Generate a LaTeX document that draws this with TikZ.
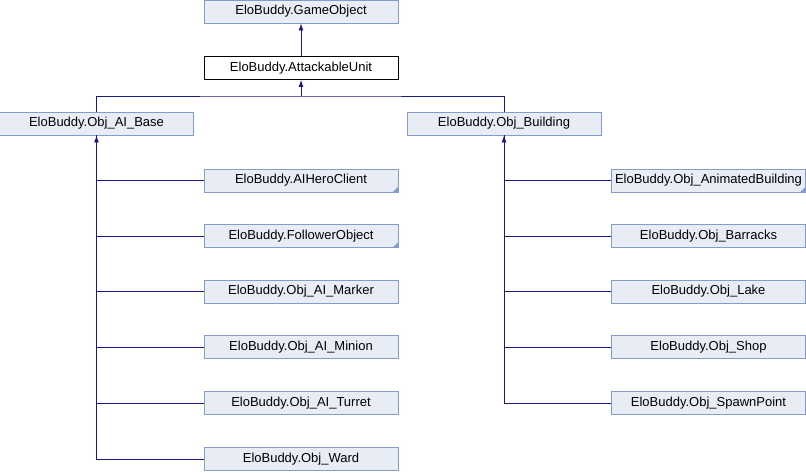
\documentclass[tikz,border=0pt]{standalone}
\usepackage{fontspec}
\setmainfont{Liberation Sans}
\usetikzlibrary{arrows.meta}
\definecolor{boxfill}{RGB}{232,236,245}
\definecolor{boxline}{RGB}{132,155,203}
\definecolor{edgeblue}{RGB}{25,25,130}
\tikzstyle{cls}=[draw=boxline, fill=boxfill, line width=0.9pt, minimum width=194pt, minimum height=23pt, inner sep=0pt, font=\fontsize{13}{15}\selectfont]
\tikzstyle{cur}=[cls, draw=black, fill=white]
\tikzstyle{edge}=[draw=edgeblue, line width=0.9pt]
\tikzstyle{inh}=[edge, -{Latex[length=7pt,width=5pt]}]
\newcommand{\cls}{\node[cls]}
\newcommand{\more}[1]{\fill[boxline] (#1.south east) -- ++(-6,0) -- ++(6,-6) -- cycle;}

\begin{document}
\begin{tikzpicture}[x=1pt, y=-1pt]
\useasboundingbox (0,0) rectangle (806,472);
\cls (gameobj) at (301,11.5) {EloBuddy.GameObject};
\node[cur] (attack) at (301,68) {EloBuddy.AttackableUnit};
\cls (aibase) at (96.5,123.5) {EloBuddy.Obj\_AI\_Base};
\cls (building) at (504,123.5) {EloBuddy.Obj\_Building};
% children of Obj_AI_Base
\cls (hero) at (301,180.5) {EloBuddy.AIHeroClient};
\cls (follower) at (301,236) {EloBuddy.FollowerObject};
\cls (marker) at (301,291.5) {EloBuddy.Obj\_AI\_Marker};
\cls (minion) at (301,347) {EloBuddy.Obj\_AI\_Minion};
\cls (turret) at (301,403) {EloBuddy.Obj\_AI\_Turret};
\cls (ward) at (301,459) {EloBuddy.Obj\_Ward};
% children of Obj_Building
\cls (animated) at (708.5,180.5) {EloBuddy.Obj\_AnimatedBuilding};
\cls (barracks) at (708.5,236) {EloBuddy.Obj\_Barracks};
\cls (lake) at (708.5,291.5) {EloBuddy.Obj\_Lake};
\cls (shop) at (708.5,347) {EloBuddy.Obj\_Shop};
\cls (spawn) at (708.5,403) {EloBuddy.Obj\_SpawnPoint};
\more{hero} \more{follower} \more{animated}
\coordinate (bus) at (301,96);
\draw[inh] (attack) -- (gameobj);
\draw[inh] (bus) -- (attack);
\draw[edge] (aibase.north) |- (bus) -| (building.north);
\foreach \c in {hero,follower,marker,minion,turret,ward}
  \draw[edge] (\c.west) -| (aibase.south);
\draw[inh] (aibase.south |- hero.west) -- (aibase);
\foreach \c in {animated,barracks,lake,shop,spawn}
  \draw[edge] (\c.west) -| (building.south);
\draw[inh] (building.south |- animated.west) -- (building);
\end{tikzpicture}
\end{document}
